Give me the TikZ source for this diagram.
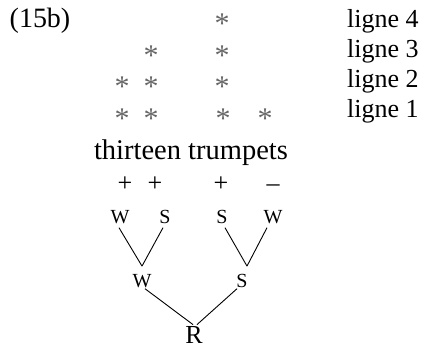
\documentclass[tikz,border=0pt]{standalone}
\usepackage{fontspec}
\setmainfont{Liberation Serif}
\begin{document}
\begin{tikzpicture}[x=1pt,y=-1pt,
  txt/.style={font=\fontsize{26}{30}\selectfont, inner sep=0pt, anchor=base},
  star/.style={font=\fontsize{30}{32}\selectfont, inner sep=0pt, anchor=base, text=black!60},
  tree/.style={font=\fontsize{20}{24}\selectfont, inner sep=4.5pt, anchor=base, text height=13.2pt, text depth=0pt},
  edge/.style={line width=0.9pt}]
\useasboundingbox (0,0) rectangle (426,349);
\node[txt, font=\fontsize{28}{32}\selectfont] (num) at (40,27) {(15b)};
% stars
\node[star] (s41) at (222,33.5) {*};
\node[star] (s31) at (151,65.5) {*};
\node[star] (s32) at (222,65.5) {*};
\node[star] (s21) at (122,96.5) {*};
\node[star] (s22) at (151,96.5) {*};
\node[star] (s23) at (222,96.5) {*};
\node[star] (s11) at (122,128.5) {*};
\node[star] (s12) at (151,128.5) {*};
\node[star] (s13) at (223,128.5) {*};
\node[star] (s14) at (265,128.5) {*};
% labels
\node[txt, anchor=base west] (l4) at (347,27) {ligne 4};
\node[txt, anchor=base west] (l3) at (347,57) {ligne 3};
\node[txt, anchor=base west] (l2) at (347,87) {ligne 2};
\node[txt, anchor=base west] (l1) at (347,117) {ligne 1};
\node[txt, font=\fontsize{28.5}{32}\selectfont] (words) at (191,159) {thirteen trumpets};
% signs
\node[txt] (p1) at (125,191) {+};
\node[txt] (p2) at (155,191) {+};
\node[txt] (p3) at (221,191) {+};
\node[txt] (m1) at (273,191) {–};
% tree
\node[tree] (W1) at (120,223) {W};
\node[tree] (S1) at (165,223) {S};
\node[tree] (S2) at (222,223) {S};
\node[tree] (W2) at (273,223) {W};
\node[tree] (W3) at (142,287) {W};
\node[tree] (S3) at (242,287) {S};
\node[tree, font=\fontsize{26}{30}\selectfont, text height=17.2pt, inner sep=1pt] (R) at (194,343) {R};
\draw[edge] ([xshift=-1pt]W1.south) -- ([yshift=3pt]W3.north);
\draw[edge] ([xshift=-2pt]S1.south) -- ([yshift=3pt]W3.north);
\draw[edge] ([xshift=3pt]S2.south) -- ([xshift=5pt,yshift=3pt]S3.north);
\draw[edge] ([xshift=-6pt]W2.south) -- ([xshift=5pt,yshift=3pt]S3.north);
\draw[edge] ([xshift=3pt,yshift=3pt]W3.south) -- ([xshift=-1pt]R.north);
\draw[edge] ([xshift=-5pt,yshift=3pt]S3.south) -- ([xshift=3pt]R.north);
\end{tikzpicture}
\end{document}
